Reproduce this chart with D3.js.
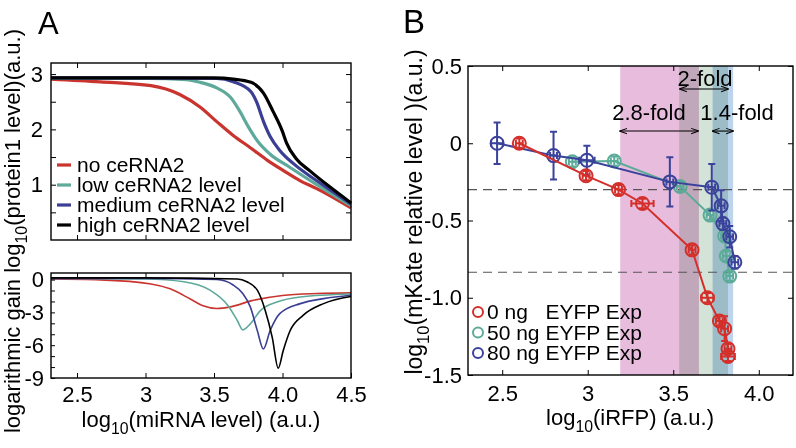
<!DOCTYPE html>
<html>
<head>
<meta charset="utf-8">
<script src="https://cdn.jsdelivr.net/npm/d3@7"></script>
<style>
body { margin: 0; background: #fff; }
text { font-family: "Liberation Sans", Arial, Helvetica, sans-serif; fill: #000; }
</style>
</head>
<body>
<div id="cntr"></div>
<script>
const W = 796, H = 448;

// ---- panel A data ----
const seriesA = ["no ceRNA2", "low ceRNA2 level", "medium ceRNA2 level", "high ceRNA2 level"];
const colorsA = ["#c9342e", "#5fa99b", "#3b3f93", "#000000"];

const protNoX   = [2.31, 2.67, 3.04, 3.25, 3.40, 3.52, 3.64, 3.77, 3.89, 4.01, 4.13, 4.25, 4.5];
const protNoY   = [2.91, 2.86, 2.79, 2.63, 2.40, 2.14, 1.89, 1.66, 1.44, 1.25, 1.07, 0.93, 0.58];
const protLowX  = [2.31, 3.0, 3.30, 3.40, 3.52, 3.62, 3.69, 3.75, 3.82, 3.91, 4.05, 4.25, 4.5];
const protLowY  = [2.92, 2.92, 2.90, 2.85, 2.75, 2.58, 2.32, 2.05, 1.78, 1.55, 1.32, 1.0, 0.62];
const protMedX  = [2.31, 3.0, 3.52, 3.64, 3.77, 3.81, 3.86, 3.91, 3.98, 4.08, 4.25, 4.5];
const protMedY  = [2.93, 2.93, 2.92, 2.86, 2.68, 2.50, 2.15, 1.87, 1.62, 1.38, 1.07, 0.65];
const protHighX = [2.31, 3.0, 3.5, 3.64, 3.77, 3.86, 3.93, 4.0, 4.03, 4.1, 4.2, 4.34, 4.5];
const protHighY = [2.93, 2.93, 2.93, 2.91, 2.85, 2.66, 2.33, 1.96, 1.75, 1.47, 1.25, 0.97, 0.67];

const gainNoX   = [2.31, 2.67, 3.04, 3.18, 3.33, 3.42, 3.52, 3.62, 3.77, 4.0, 4.25, 4.5];
const gainNoY   = [0.05, -0.03, -0.4, -0.85, -1.8, -2.4, -2.65, -2.5, -1.95, -1.45, -1.28, -1.22];
const gainLowX  = [2.31, 3.0, 3.28, 3.47, 3.60, 3.67, 3.71, 3.765, 3.84, 3.96, 4.13, 4.5];
const gainLowY  = [0.1, 0.05, -0.2, -0.97, -2.35, -3.74, -4.6, -4.05, -2.82, -2.05, -1.59, -1.32];
const gainMedX  = [2.31, 3.0, 3.52, 3.64, 3.71, 3.765, 3.816, 3.86, 3.91, 3.98, 4.13, 4.30, 4.5];
const gainMedY  = [0.1, 0.1, 0.0, -0.5, -1.28, -2.5, -4.66, -6.35, -4.66, -3.12, -2.2, -1.74, -1.43];
const gainHighX = [2.31, 3.0, 3.67, 3.74, 3.816, 3.874, 3.925, 3.969, 4.005, 4.056, 4.15, 4.30, 4.5];
const gainHighY = [0.15, 0.15, 0.05, -0.2, -0.97, -2.82, -5.28, -8.1, -6.5, -4.66, -3.28, -2.2, -1.55];

const xTicksA = [2.5, 3, 3.5, 4, 4.5];
const xTickLabelsA = ["2.5", "3", "3.5", "4.0", "4.5"];
const yTicksTop = [0.5, 1, 1.5, 2, 2.5, 3];
const yTicksGain = [0, -1, -2, -3, -4, -5, -6, -7, -8, -9];

// ---- panel B data ----
const seriesB = ["0 ng   EYFP Exp", "50 ng EYFP Exp", "80 ng EYFP Exp"];
const colorsB = ["#d42f2a", "#5cab98", "#3a429b"];

const ng0X    = [2.60, 2.99, 3.18, 3.32, 3.61, 3.70, 3.77, 3.80, 3.82, 3.82];
const ng0Y    = [0.0, -0.21, -0.30, -0.39, -0.69, -1.00, -1.15, -1.20, -1.33, -1.38];
const ng0Xerr = [0.02, 0.02, 0.02, 0.065, 0.02, 0.035, 0.02, 0.02, 0.02, 0.04];
const ng0Yerr = [0.03, 0.03, 0.03, 0.03, 0.03, 0.03, 0.03, 0.08, 0.03, 0.03];

const ng50X    = [2.91, 3.155, 3.54, 3.715, 3.80, 3.81, 3.83];
const ng50Y    = [-0.12, -0.115, -0.28, -0.465, -0.60, -0.73, -0.86];
const ng50Xerr = [0.02, 0.02, 0.02, 0.02, 0.02, 0.02, 0.02];
const ng50Yerr = [0.03, 0.03, 0.03, 0.03, 0.03, 0.03, 0.03];

const ng80X    = [2.47, 2.80, 2.995, 3.48, 3.725, 3.78, 3.79, 3.83, 3.86];
const ng80Y    = [0.0, -0.08, -0.11, -0.25, -0.285, -0.405, -0.52, -0.605, -0.77];
const ng80Xerr = [0.035, 0.02, 0.045, 0.02, 0.02, 0.02, 0.02, 0.02, 0.02];
const ng80Yerr = [0.135, 0.155, 0.094, 0.16, 0.15, 0.10, 0.04, 0.07, 0.04];

const bandStart = [3.19, 3.535, 3.73];
const bandEnd   = [3.65, 3.82, 3.85];
const bandColors = ["#e8bcdc", "#d3e3d8", "#bdd5ec"];
const thresholds = [-0.3, -0.835];

const foldLabels = ["2.8-fold", "2-fold", "1.4-fold"];
const foldFrom   = [3.19, 3.54, 3.73];
const foldTo     = [3.645, 3.82, 3.85];
const foldTextX  = [3.358, 3.686, 3.873];
const foldArrowY = [0.079, 0.351, 0.079];
const foldTextY  = [0.15, 0.372, 0.15];

const xTicksB = [2.5, 3, 3.5, 4];
const xTickLabelsB = ["2.5", "3", "3.5", "4.0"];
const yTicksB = [0.5, 0, -0.5, -1, -1.5];
const yTickLabelsB = ["0.5", "0", "-0.5", "-1.0", "-1.5"];

// ---- scales ----
const xA = d3.scaleLinear().domain([2.31, 4.5]).range([51, 351]);
const yTop = d3.scaleLinear().domain([0, 3.2]).range([240, 63]);
const yGain = d3.scaleLinear().domain([-9, 0.6]).range([378, 273]);
const xB = d3.scaleLinear().domain([2.3, 4.2]).range([468, 793]);
const yB = d3.scaleLinear().domain([-1.5, 0.5]).range([375, 66]);

const svg = d3.select("#cntr")
    .append("svg")
    .attr("width", W)
    .attr("height", H);

svg.append("rect").attr("width", W).attr("height", H).attr("fill", "#fff");

const defs = svg.append("defs");
defs.append("marker")
    .attr("id", "arr")
    .attr("viewBox", "0 0 10 10")
    .attr("refX", 9).attr("refY", 5)
    .attr("markerWidth", 7).attr("markerHeight", 7)
    .attr("orient", "auto-start-reverse")
    .append("path")
    .attr("d", "M0,1.5L10,5L0,8.5")
    .attr("fill", "none")
    .attr("stroke", "#000")
    .attr("stroke-width", 1.3);

// inward ticks on all sides, MATLAB style
function ticks(g, axis, tr) {
    const a = g.append("g").attr("transform", tr).call(axis);
    a.select(".domain").remove();
    a.selectAll(".tick line").attr("stroke", "#000").attr("stroke-width", 1);
    a.selectAll(".tick text").style("font-size", "22px");
    return a;
}

function frame(g, x, y) {
    g.append("rect")
        .attr("x", x.range()[0]).attr("y", y.range()[1])
        .attr("width", x.range()[1] - x.range()[0])
        .attr("height", y.range()[0] - y.range()[1])
        .attr("fill", "none")
        .attr("stroke", "#000")
        .attr("stroke-width", 1.4);
}

function subText(g, parts, size) {
    const t = g.append("text").style("font-size", size + "px");
    parts.forEach(p => {
        if (p.sub) {
            t.append("tspan").attr("dy", size * 0.32).style("font-size", (size * 0.72) + "px").text(p.t);
        } else {
            t.append("tspan").attr("dy", p.back ? -size * 0.32 : 0).text(p.t);
        }
    });
    return t;
}

const zip = (xs, ys) => xs.map((v, i) => [v, ys[i]]);

// ================= PANEL A =================
const gA = svg.append("g");

// top: protein1 level
const protData = [zip(protNoX, protNoY), zip(protLowX, protLowY), zip(protMedX, protMedY), zip(protHighX, protHighY)];
const lineTop = d3.line().x(d => xA(d[0])).y(d => yTop(d[1])).curve(d3.curveMonotoneX);

gA.selectAll("path.prot")
    .data(protData)
    .join("path")
        .attr("class", "prot")
        .attr("d", lineTop)
        .attr("fill", "none")
        .attr("stroke", (d, i) => colorsA[i])
        .attr("stroke-width", 3.2);

ticks(gA, d3.axisBottom(xA).tickValues(xTicksA.slice(0, 4)).tickSize(-5).tickFormat(""), "translate(0,240)");
ticks(gA, d3.axisTop(xA).tickValues(xTicksA.slice(0, 4)).tickSize(-5).tickFormat(""), "translate(0,63)");
ticks(gA, d3.axisLeft(yTop).tickValues(yTicksTop).tickSize(-5).tickPadding(8)
    .tickFormat(d => Number.isInteger(d) ? String(d) : ""), "translate(51,0)");
ticks(gA, d3.axisRight(yTop).tickValues(yTicksTop).tickSize(-5).tickFormat(""), "translate(351,0)");
frame(gA, xA, yTop);

// legend A
const legA = gA.selectAll("g.legA")
    .data(seriesA)
    .join("g")
        .attr("class", "legA")
        .attr("transform", (d, i) => `translate(0,${172 + i * 20})`);
legA.append("line")
    .attr("x1", 57).attr("x2", 71).attr("y1", -7).attr("y2", -7)
    .attr("stroke", (d, i) => colorsA[i])
    .attr("stroke-width", 3.2);
legA.append("text")
    .attr("x", 77)
    .style("font-size", "21px")
    .text(d => d);

// bottom: logarithmic gain
const gainData = [zip(gainNoX, gainNoY), zip(gainLowX, gainLowY), zip(gainMedX, gainMedY), zip(gainHighX, gainHighY)];
const lineGain = d3.line().x(d => xA(d[0])).y(d => yGain(d[1])).curve(d3.curveMonotoneX);

gA.selectAll("path.gain")
    .data(gainData)
    .join("path")
        .attr("class", "gain")
        .attr("d", lineGain)
        .attr("fill", "none")
        .attr("stroke", (d, i) => colorsA[i])
        .attr("stroke-width", 1.6);

ticks(gA, d3.axisBottom(xA).tickValues(xTicksA).tickSize(-5).tickPadding(8)
    .tickFormat((d, i) => xTickLabelsA[i]), "translate(0,378)");
ticks(gA, d3.axisTop(xA).tickValues(xTicksA.slice(0, 4)).tickSize(-4).tickFormat(""), "translate(0,273)");
ticks(gA, d3.axisLeft(yGain).tickValues(yTicksGain).tickSize(-4).tickPadding(7)
    .tickFormat(d => d % 3 === 0 ? (d === 0 ? "0" : "-" + Math.abs(d)) : ""), "translate(51,0)");
frame(gA, xA, yGain);

// axis labels A
subText(gA, [{t: "log"}, {t: "10", sub: true}, {t: "(miRNA level) (a.u.)", back: true}], 22)
    .attr("x", 201).attr("y", 427).attr("text-anchor", "middle");

subText(gA, [{t: "logarithmic gain log"}, {t: "10", sub: true}, {t: "(protein1 level)(a.u.)", back: true}], 22)
    .attr("text-anchor", "middle")
    .attr("transform", "translate(20,231) rotate(-90)");

gA.append("text").attr("x", 38).attr("y", 34).style("font-size", "31px").text("A");

// ================= PANEL B =================
const gB = svg.append("g");

gB.selectAll("rect.band")
    .data(bandStart)
    .join("rect")
        .attr("class", "band")
        .attr("x", d => xB(d))
        .attr("width", (d, i) => xB(bandEnd[i]) - xB(d))
        .attr("y", yB(0.5))
        .attr("height", yB(-1.5) - yB(0.5))
        .attr("fill", (d, i) => bandColors[i])
        .style("mix-blend-mode", "multiply");

gB.selectAll("line.thr")
    .data(thresholds)
    .join("line")
        .attr("class", "thr")
        .attr("x1", xB.range()[0]).attr("x2", xB.range()[1])
        .attr("y1", d => yB(d)).attr("y2", d => yB(d))
        .attr("stroke", "#555")
        .attr("stroke-width", 1.2)
        .attr("stroke-dasharray", "9,6");

// fold arrows
gB.selectAll("line.fold")
    .data(foldLabels)
    .join("line")
        .attr("class", "fold")
        .attr("x1", (d, i) => xB(foldFrom[i]))
        .attr("x2", (d, i) => xB(foldTo[i]))
        .attr("y1", (d, i) => yB(foldArrowY[i]))
        .attr("y2", (d, i) => yB(foldArrowY[i]))
        .attr("stroke", "#000")
        .attr("stroke-width", 1.1)
        .attr("marker-start", "url(#arr)")
        .attr("marker-end", "url(#arr)");

gB.selectAll("text.fold")
    .data(foldLabels)
    .join("text")
        .attr("class", "fold")
        .attr("x", (d, i) => xB(foldTextX[i]))
        .attr("y", (d, i) => yB(foldTextY[i]))
        .attr("text-anchor", "middle")
        .style("font-size", "22px")
        .text(d => d);

// experimental series
const bData = [
    {c: colorsB[1], x: ng50X, y: ng50Y, xe: ng50Xerr, ye: ng50Yerr},
    {c: colorsB[2], x: ng80X, y: ng80Y, xe: ng80Xerr, ye: ng80Yerr},
    {c: colorsB[0], x: ng0X, y: ng0Y, xe: ng0Xerr, ye: ng0Yerr}
];
const lineB = d3.line().x(d => xB(d[0])).y(d => yB(d[1]));

bData.forEach(s => {
    const g = gB.append("g").attr("stroke", s.c).attr("fill", "none").attr("stroke-width", 2);
    const pts = s.x.map((v, i) => ({x: v, y: s.y[i], xe: s.xe[i], ye: s.ye[i]}));

    g.append("path").attr("d", lineB(zip(s.x, s.y)));

    const p = g.selectAll("g.pt").data(pts).join("g").attr("class", "pt");
    // vertical error bar + caps
    p.append("path")
        .attr("d", d => {
            const cx = xB(d.x), y0 = yB(d.y - d.ye), y1 = yB(d.y + d.ye), c = 3.5;
            return `M${cx},${y0}V${y1}M${cx - c},${y0}H${cx + c}M${cx - c},${y1}H${cx + c}`;
        });
    // horizontal error bar + caps
    p.append("path")
        .attr("d", d => {
            const cy = yB(d.y), x0 = xB(d.x - d.xe), x1 = xB(d.x + d.xe), c = 3.5;
            return `M${x0},${cy}H${x1}M${x0},${cy - c}V${cy + c}M${x1},${cy - c}V${cy + c}`;
        });
    p.append("circle")
        .attr("cx", d => xB(d.x))
        .attr("cy", d => yB(d.y))
        .attr("r", 6.5);
});

ticks(gB, d3.axisBottom(xB).tickValues(xTicksB).tickSize(-5).tickPadding(10)
    .tickFormat((d, i) => xTickLabelsB[i]), "translate(0,375)");
ticks(gB, d3.axisTop(xB).tickValues(xTicksB).tickSize(-5).tickFormat(""), "translate(0,66)");
ticks(gB, d3.axisLeft(yB).tickValues(yTicksB).tickSize(-5).tickPadding(6)
    .tickFormat((d, i) => yTickLabelsB[i]), "translate(468,0)");
ticks(gB, d3.axisRight(yB).tickValues(yTicksB).tickSize(-5).tickFormat(""), "translate(793,0)");
frame(gB, xB, yB);

// legend B
const legB = gB.selectAll("g.legB")
    .data(seriesB)
    .join("g")
        .attr("class", "legB")
        .attr("transform", (d, i) => `translate(0,${319 + i * 20.5})`);
legB.append("circle")
    .attr("cx", 478).attr("cy", -7).attr("r", 5)
    .attr("fill", "none")
    .attr("stroke", (d, i) => colorsB[i])
    .attr("stroke-width", 2);
legB.append("text")
    .attr("x", 487)
    .style("font-size", "21px")
    .style("white-space", "pre")
    .text(d => d);

// axis labels B
subText(gB, [{t: "log"}, {t: "10", sub: true}, {t: "(iRFP) (a.u.)", back: true}], 22)
    .attr("x", 630).attr("y", 425).attr("text-anchor", "middle");

subText(gB, [{t: "log"}, {t: "10", sub: true}, {t: "(mKate relative level )(a.u.)", back: true}], 23)
    .attr("text-anchor", "middle")
    .attr("transform", "translate(422,212) rotate(-90)");

gB.append("text").attr("x", 403).attr("y", 33).style("font-size", "33px").text("B");
</script>
</body>
</html>
